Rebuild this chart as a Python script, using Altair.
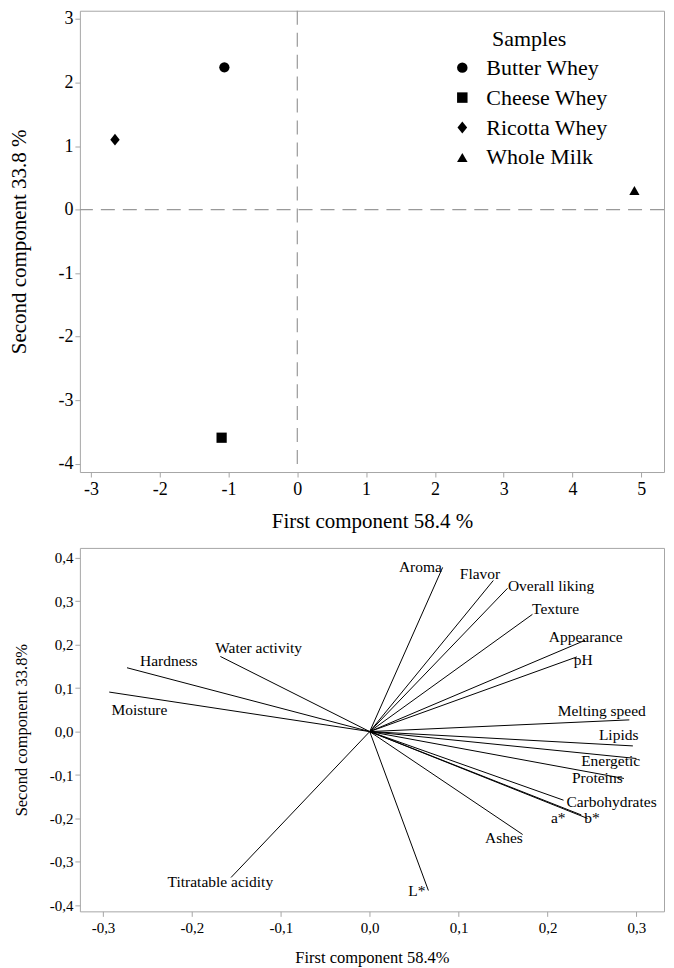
import altair as alt
import pandas as pd

# ---- Scores (top panel) ----
samples = ["Butter Whey", "Cheese Whey", "Ricotta Whey", "Whole Milk"]
pc1_scores = [-1.06, -1.10, -2.65, 4.90]
pc2_scores = [2.24, -3.59, 1.10, 0.30]

# ---- Loadings (bottom panel) ----
variables = ["Aroma", "Flavor", "Overall liking", "Texture", "Appearance", "pH",
             "Melting speed", "Lipids", "Energetic", "Proteins", "Carbohydrates",
             "a*", "b*", "Ashes", "L*", "Titratable acidity", "Moisture",
             "Hardness", "Water activity"]
pc1_load = [0.082, 0.139, 0.155, 0.183, 0.242, 0.233, 0.292, 0.296, 0.300, 0.286,
            0.218, 0.238, 0.245, 0.172, 0.066, -0.156, -0.293, -0.273, -0.168]
pc2_load = [0.378, 0.348, 0.330, 0.270, 0.210, 0.172, 0.027, -0.033, -0.062, -0.108,
            -0.158, -0.192, -0.200, -0.237, -0.366, -0.336, 0.091, 0.147, 0.173]
# label anchor points (data units)
label_x = [0.057, 0.124, 0.204, 0.209, 0.243, 0.240, 0.261, 0.280, 0.271, 0.256,
           0.272, 0.212, 0.250, 0.151, 0.053, -0.168, -0.259, -0.226, -0.125]
label_y = [0.378, 0.363, 0.336, 0.282, 0.218, 0.164, 0.048, -0.009, -0.068, -0.108,
           -0.163, -0.200, -0.200, -0.245, -0.368, -0.347, 0.050, 0.163, 0.192]

ref_zero = [0]
top_xticks = [-3, -2, -1, 0, 1, 2, 3, 4, 5]
top_yticks = [-4, -3, -2, -1, 0, 1, 2, 3]
bot_xticks = [-0.3, -0.2, -0.1, 0.0, 0.1, 0.2, 0.3]
bot_yticks = [-0.4, -0.3, -0.2, -0.1, 0.0, 0.1, 0.2, 0.3, 0.4]

FONT = "Liberation Serif"
GRAY = "#a6a6a6"

scores = pd.DataFrame({"sample": samples, "pc1": pc1_scores, "pc2": pc2_scores})
loads = pd.DataFrame({"var": variables, "pc1": pc1_load, "pc2": pc2_load,
                      "lx": label_x, "ly": label_y})
zero = pd.DataFrame({"v": ref_zero})

int_expr = "(datum.value < 0 ? '-' : '') + format(abs(datum.value), 'd')"
dec_expr = "(datum.value < -0.001 ? '-' : '') + replace(format(abs(datum.value), '.1f'), '.', ',')"

top_x = alt.Scale(domain=[-3.16, 5.33], nice=False, zero=False)
top_y = alt.Scale(domain=[-4.13, 3.13], nice=False, zero=False)

diamond = "M0,-1.15L0.92,0L0,1.15L-0.92,0Z"

points = alt.Chart(scores).mark_point(filled=True, color="black", opacity=1, size=105).encode(
    x=alt.X("pc1:Q", scale=top_x,
            axis=alt.Axis(title="First component 58.4 %", values=top_xticks, labelExpr=int_expr,
                          labelFontSize=18, titleFontSize=21, titlePadding=3, labelPadding=4)),
    y=alt.Y("pc2:Q", scale=top_y,
            axis=alt.Axis(title="Second component 33.8 %", values=top_yticks, labelExpr=int_expr,
                          labelFontSize=18, titleFontSize=21)),
    shape=alt.Shape("sample:N",
                    scale=alt.Scale(domain=samples,
                                    range=["circle", "square", diamond, "triangle-up"]),
                    legend=alt.Legend(title="Samples", orient="none", legendX=372, legendY=18,
                                      titleFontSize=22, labelFontSize=22, titleAnchor="middle",
                                      titleAlign="center", titlePadding=6, rowPadding=8,
                                      labelOffset=13, symbolSize=110, symbolFillColor="black",
                                      symbolStrokeColor="black", padding=0)),
)

vline = alt.Chart(zero).mark_rule(color="#999999", strokeDash=[14, 8], strokeWidth=1.2).encode(
    x=alt.X("v:Q", scale=top_x))
hline = alt.Chart(zero).mark_rule(color="#999999", strokeDash=[14, 8], strokeWidth=1.2).encode(
    y=alt.Y("v:Q", scale=top_y))

top = alt.layer(vline, hline, points).properties(width=585, height=462)

bot_x = alt.Scale(domain=[-0.326, 0.331], nice=False, zero=False)
bot_y = alt.Scale(domain=[-0.414, 0.423], nice=False, zero=False)

vectors = alt.Chart(loads).mark_rule(color="black", strokeWidth=1).encode(
    x=alt.X("pc1:Q", scale=bot_x,
            axis=alt.Axis(title="First component 58.4%", values=bot_xticks, labelExpr=dec_expr,
                          labelFontSize=15, titleFontSize=16.5, titlePadding=2, labelPadding=4)),
    y=alt.Y("pc2:Q", scale=bot_y,
            axis=alt.Axis(title="Second component 33.8%", values=bot_yticks, labelExpr=dec_expr,
                          labelFontSize=15, titleFontSize=16.5)),
    x2=alt.datum(0),
    y2=alt.datum(0),
)

labels = alt.Chart(loads).mark_text(font=FONT, fontSize=15.5, color="black",
                                    align="center", baseline="middle").encode(
    x=alt.X("lx:Q", scale=bot_x),
    y=alt.Y("ly:Q", scale=bot_y),
    text="var:N",
)

bottom = alt.layer(vectors, labels).properties(width=585, height=364)

chart = alt.vconcat(top, bottom, spacing=14).properties(padding=0).configure_view(
    stroke=GRAY, strokeWidth=1
).configure_axis(
    domain=False, grid=False, tickColor=GRAY, tickSize=5, labelColor="black",
    titleColor="black", labelFont=FONT, titleFont=FONT, titleFontWeight="normal",
    minExtent=36, maxExtent=36, titlePadding=14
).configure_legend(
    labelFont=FONT, titleFont=FONT, titleFontWeight="normal", labelColor="black",
    titleColor="black"
).configure_text(font=FONT)

chart.save("out.html", embed_options={"renderer": "svg", "actions": False})
